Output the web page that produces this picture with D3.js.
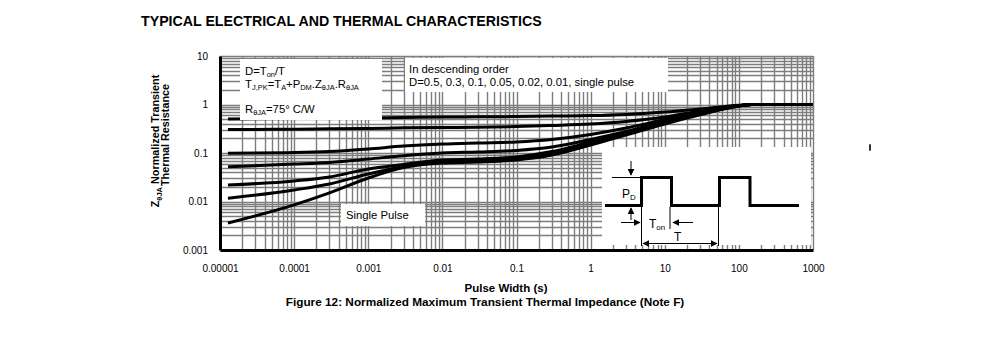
<!DOCTYPE html>
<html>
<head>
<meta charset="utf-8">
<script src="https://cdnjs.cloudflare.com/ajax/libs/d3/7.8.5/d3.min.js"></script>
<style>
body{margin:0;background:#fff;}
svg text{font-family:"Liberation Sans",Arial,sans-serif;fill:#000;}
</style>
</head>
<body>
<div id="chart"></div>
<script>
// pulse widths (s) where each curve was sampled
const pulseWidth=[1.28e-5,1e-4,3e-4,1e-3,3e-3,1e-2,3e-2,0.1,0.3,1,3,10,30,100,150,1000];

// normalized transient thermal impedance, one array per duty cycle
const zD050=[0.50,0.515,0.522,0.53,0.542,0.55,0.557,0.565,0.579,0.59,0.622,0.70,0.808,0.96,1,1];
const zD030=[0.305,0.31,0.315,0.32,0.33,0.336,0.34,0.35,0.369,0.396,0.446,0.55,0.734,0.95,1,1];
const zD010=[0.099,0.102,0.107,0.121,0.139,0.153,0.161,0.169,0.19,0.24,0.327,0.49,0.70,0.95,1,1];
const zD005=[0.052,0.059,0.064,0.075,0.088,0.1,0.105,0.113,0.133,0.19,0.277,0.446,0.668,0.94,1,1];
const zD002=[0.0219,0.0265,0.032,0.047,0.058,0.072,0.075,0.083,0.107,0.169,0.259,0.42,0.65,0.94,1,1];
const zD001=[0.0116,0.0173,0.023,0.037,0.052,0.065,0.068,0.077,0.1,0.157,0.247,0.416,0.637,0.93,1,1];
const zSingle=[0.0036,0.0085,0.015,0.0305,0.05,0.062,0.065,0.072,0.091,0.146,0.235,0.396,0.61,0.93,1,1];

const xTickValues=[1e-5,1e-4,1e-3,1e-2,0.1,1,10,100,1000];
const xTickLabels=["0.00001","0.0001","0.001","0.01","0.1","1","10","100","1000"];
const yTickValues=[0.001,0.01,0.1,1,10];
const yTickLabels=["0.001","0.01","0.1","1","10"];

const svgWidth=991;
const svgHeight=338;
const margin={t:56,r:178,b:88,l:220};
const width=svgWidth-margin.l-margin.r;
const height=svgHeight-margin.t-margin.b;

const svg=d3.select("#chart")
  .append("svg")
  .attr("width",svgWidth)
  .attr("height",svgHeight);

svg.append("defs").append("marker")
  .attr("id","arrow")
  .attr("viewBox","0 0 10 10")
  .attr("refX",9)
  .attr("refY",5)
  .attr("markerWidth",7)
  .attr("markerHeight",7)
  .attr("markerUnits","userSpaceOnUse")
  .attr("orient","auto-start-reverse")
  .append("path")
  .attr("d","M0,0L10,5L0,10z")
  .attr("fill","#000");

// page heading
svg.append("text")
  .attr("x",141)
  .attr("y",25.5)
  .attr("font-size","14.2px")
  .attr("font-weight","bold")
  .text("TYPICAL ELECTRICAL AND THERMAL CHARACTERISTICS");

const chartGroup=svg.append("g")
  .attr("transform",`translate(${margin.l}, ${margin.t})`);

const xScale=d3.scaleLog().domain([1e-5,1000]).range([0,width]);
const yScale=d3.scaleLog().domain([0.001,10]).range([height,0]);

// log grid: 1..9 in every decade
const xGrid=[];
for(let e=-5;e<3;e++) for(let k=1;k<10;k++) xGrid.push(k*Math.pow(10,e));
xGrid.push(1000);
const yGrid=[];
for(let e=-3;e<1;e++) for(let k=1;k<10;k++) yGrid.push(k*Math.pow(10,e));
yGrid.push(10);

const gridGroup=chartGroup.append("g")
  .attr("stroke","#7d7d7d")
  .attr("stroke-width",1.4);
gridGroup.selectAll("line.v")
  .data(xGrid)
  .enter()
  .append("line")
  .attr("class","v")
  .attr("x1",d=>Math.round(xScale(d))+0.5).attr("x2",d=>Math.round(xScale(d))+0.5)
  .attr("y1",0).attr("y2",height);
gridGroup.selectAll("line.h")
  .data(yGrid)
  .enter()
  .append("line")
  .attr("class","h")
  .attr("x1",0).attr("x2",width)
  .attr("y1",d=>Math.round(yScale(d))+0.5).attr("y2",d=>Math.round(yScale(d))+0.5);

// one line per duty cycle
const series=[zD050,zD030,zD010,zD005,zD002,zD001,zSingle];
const line=d3.line()
  .x((d,i)=>xScale(pulseWidth[i]))
  .y(d=>yScale(d))
  .curve(d3.curveMonotoneX);

chartGroup.append("g")
  .selectAll("path")
  .data(series)
  .enter()
  .append("path")
  .attr("d",line)
  .attr("fill","none")
  .attr("stroke","#000")
  .attr("stroke-width",3)
  .attr("stroke-linejoin","round");

// white annotation boxes sit over the grid
const boxes=[
  {x:240,y:59,w:142,h:61},
  {x:405,y:58,w:263,h:34},
  {x:341,y:204,w:84,h:22},
  {x:602,y:147,w:209,h:98}
];
svg.append("g").selectAll("rect")
  .data(boxes)
  .enter()
  .append("rect")
  .attr("x",d=>d.x).attr("y",d=>d.y)
  .attr("width",d=>d.w).attr("height",d=>d.h)
  .attr("fill","#fff");

// text with subscripts
function richText(x,y,parts,size){
  const t=svg.append("text")
    .attr("x",x)
    .attr("y",y)
    .attr("font-size",size+"px");
  parts.forEach(p=>{
    const s=t.append("tspan").text(p[0]);
    if(p[1]) s.attr("font-size",(size*0.66)+"px").attr("dy","2");
    else s.attr("dy",p[2]||0);
  });
  return t;
}
richText(245,75,[["D=T"],["on",1],["/T",0,-2]],11.3);
richText(245,87.5,[["T"],["J,PK",1],["=T",0,-2],["A",1],["+P",0,-2],["DM",1],[".Z",0,-2],["θJA",1],[".R",0,-2],["θJA",1]],11.3);
richText(245,112.5,[["R"],["θJA",1],["=75°  C/W",0,-2]],11.3);

svg.append("text").attr("x",409).attr("y",73).attr("font-size","11.3px").text("In descending order");
svg.append("text").attr("x",409).attr("y",85.5).attr("font-size","11.3px").text("D=0.5, 0.3, 0.1, 0.05, 0.02, 0.01, single pulse");
svg.append("text").attr("x",346).attr("y",219).attr("font-size","11.3px").text("Single Pulse");

// duty cycle sketch
const pulse=svg.append("g").attr("fill","none").attr("stroke","#000");
pulse.append("path")
  .attr("d","M605,205.5H641.5V177.5H671.5V205.5H719.5V177.5H750V205.5H799")
  .attr("stroke-width",3)
  .attr("stroke-linejoin","miter");
pulse.append("path")
  .attr("d","M612,177.5H641M641.5,207V246M718.5,207V246M670,207V229")
  .attr("stroke-width",1);
[[631,161,631,175],[631,220,631,208],[621,222.5,640,222.5],[693,222.5,673,222.5]].forEach(a=>{
  pulse.append("line")
    .attr("x1",a[0]).attr("y1",a[1]).attr("x2",a[2]).attr("y2",a[3])
    .attr("stroke-width",1)
    .attr("marker-end","url(#arrow)");
});
pulse.append("line")
  .attr("x1",643).attr("y1",243.5).attr("x2",717).attr("y2",243.5)
  .attr("stroke-width",1)
  .attr("marker-start","url(#arrow)")
  .attr("marker-end","url(#arrow)");
richText(622,198,[["P"],["D",1]],12);
richText(649,228,[["T"],["on",1]],12);
svg.append("text").attr("x",674).attr("y",241).attr("font-size","12px").text("T");

// axes
const bottomAxis=d3.axisBottom(xScale)
  .tickValues(xTickValues)
  .tickFormat((d,i)=>xTickLabels[i])
  .tickSize(0)
  .tickPadding(15);
const leftAxis=d3.axisLeft(yScale)
  .tickValues(yTickValues)
  .tickFormat((d,i)=>yTickLabels[i])
  .tickSize(0)
  .tickPadding(12);

const xAxis=chartGroup.append("g")
  .attr("transform",`translate(0,${height})`)
  .call(bottomAxis);
const yAxis=chartGroup.append("g")
  .call(leftAxis);
[xAxis,yAxis].forEach(a=>{
  a.select(".domain").attr("stroke","#000").attr("stroke-width",3);
  a.selectAll("text")
    .attr("font-family","'Liberation Sans',Arial,sans-serif")
    .attr("font-size","10px")
    .attr("fill","#000");
});

// axis titles
svg.append("text")
  .attr("x",506)
  .attr("y",292)
  .attr("text-anchor","middle")
  .attr("font-size","11.5px")
  .attr("font-weight","bold")
  .text("Pulse Width (s)");
svg.append("text")
  .attr("x",485)
  .attr("y",305.5)
  .attr("text-anchor","middle")
  .attr("font-size","11.8px")
  .attr("font-weight","bold")
  .text("Figure 12: Normalized Maximum Transient Thermal Impedance (Note F)");

const yTitle=svg.append("g")
  .attr("transform","translate(159,141)rotate(-90)");
const yLine1=yTitle.append("text")
  .attr("text-anchor","middle")
  .attr("font-size","10.8px")
  .attr("font-weight","bold");
yLine1.append("tspan").text("Z");
yLine1.append("tspan").attr("font-size","7.5px").attr("dy",3).text("θJA");
yLine1.append("tspan").attr("dy",-3).text(" Normalized Transient");
yTitle.append("text")
  .attr("y",10)
  .attr("x",6)
  .attr("text-anchor","middle")
  .attr("font-size","10.8px")
  .attr("font-weight","bold")
  .text("Thermal Resistance");

// stray mark at the right margin
svg.append("rect")
  .attr("x",869).attr("y",144)
  .attr("width",2).attr("height",7)
  .attr("rx",1)
  .attr("fill","#333");
</script>
</body>
</html>
